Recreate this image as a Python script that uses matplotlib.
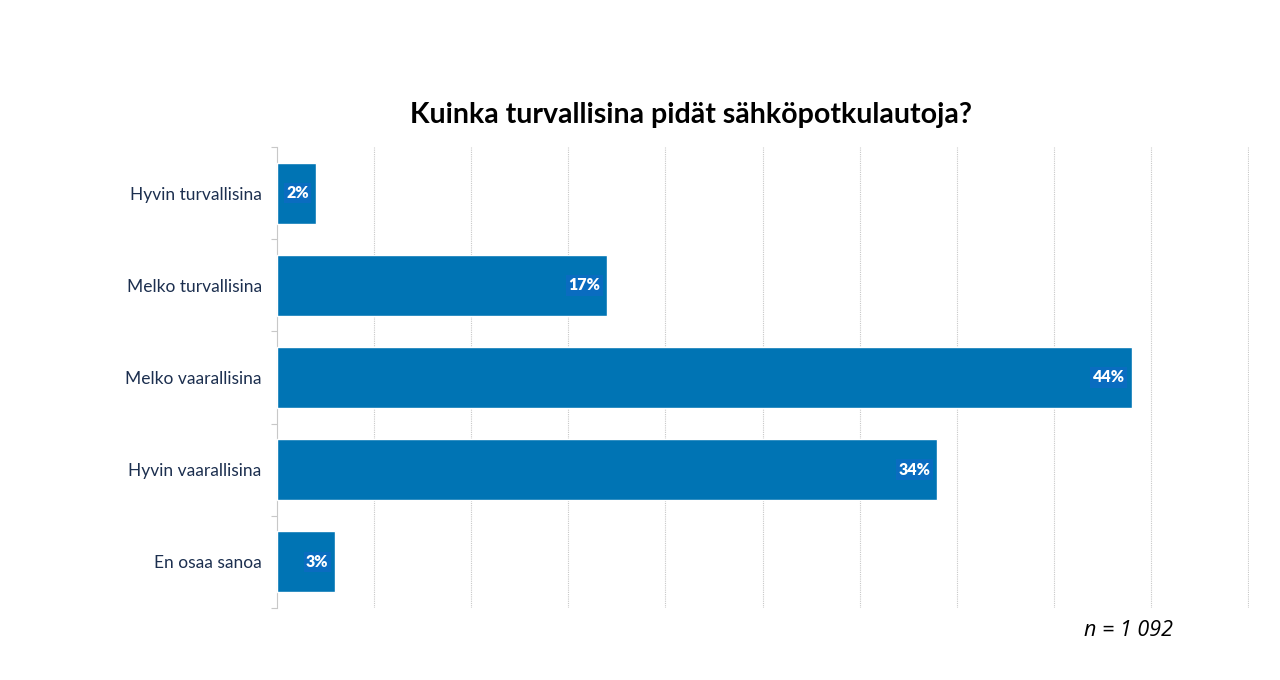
import matplotlib.pyplot as plt
import numpy as np

categories = ["Hyvin turvallisina", "Melko turvallisina", "Melko vaarallisina",
              "Hyvin vaarallisina", "En osaa sanoa"]
values = [2, 17, 44, 34, 3]
title = "Kuinka turvallisina pidät sähköpotkulautoja?"
note = "n = 1 092"

BAR = "#0074b4"
LABEL_BG = "#0a6cc0"
TXT = "#1c2f4f"
GRID = "#c8c8c8"

fig = plt.figure(figsize=(12.8, 6.8), dpi=100)
ax = fig.add_axes([277 / 1280, 1 - 608 / 680, (1249 - 277) / 1280, (608 - 147) / 680])

y = np.arange(len(categories))
ax.barh(y, values, height=0.66, color=BAR, edgecolor="white", linewidth=1.0, zorder=3)

for yi, v in zip(y, values):
    ax.text(v - 0.35, yi, f"{v}%", ha="right", va="center", color="white",
            fontsize=11.5, fontweight="heavy", family="Lato", zorder=4,
            bbox=dict(boxstyle="square,pad=0.15", fc=LABEL_BG, ec="none"))

ax.set_xlim(0, 50.05)
ax.set_ylim(len(categories) - 0.5, -0.5)
ax.set_xticks(np.arange(5, 51, 5))
ax.tick_params(axis="x", length=0, labelbottom=False)
ax.grid(True, axis="x", color=GRID, lw=0.8, ls=(0, (1, 1)), zorder=0)

ax.set_yticks(y)
ax.set_yticklabels(categories, color=TXT, fontsize=12.5, family="Lato")
ax.set_yticks(np.arange(-0.5, len(categories)), minor=True)
ax.tick_params(axis="y", which="major", length=0, pad=11)
ax.tick_params(axis="y", which="minor", length=4, color=GRID, width=0.8)

for s in ["top", "right", "bottom"]:
    ax.spines[s].set_visible(False)
ax.spines["left"].set_color(GRID)
ax.spines["left"].set_linewidth(0.8)

fig.text(691 / 1280, 1 - 115 / 680, title, ha="center", va="center",
         fontsize=20.5, fontweight="bold", family="Lato", color="black")
fig.text(1129 / 1280, 1 - 630 / 680, note, ha="center", va="center",
         fontsize=15.5, style="italic", family="Open Sans", color="black")

fig.savefig("out.png", dpi=100)
